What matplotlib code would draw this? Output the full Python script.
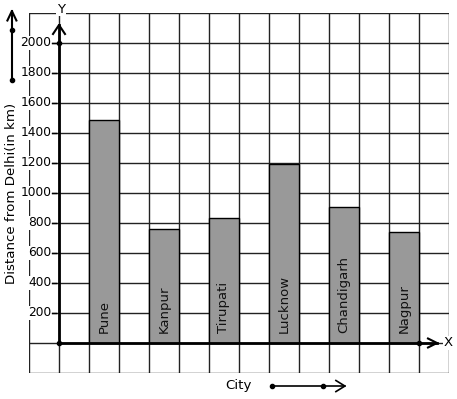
import numpy as np
import matplotlib
matplotlib.use("Agg")
import matplotlib.pyplot as plt

cities = ["Pune", "Kanpur", "Tirupati", "Lucknow", "Chandigarh", "Nagpur"]
distances = [1487, 760, 833, 1195, 908, 742]
bar_left = [1, 3, 5, 7, 9, 11]
y_ticks = [200, 400, 600, 800, 1000, 1200, 1400, 1600, 1800, 2000]

fig = plt.figure(figsize=(4.57, 3.99), dpi=100)
# axes spans the whole grid: x from -1 to 13 units, y from -200 to 2200
ax = fig.add_axes([29 / 457, 26 / 399, 420 / 457, 360 / 399])
ax.set_xlim(-1, 13)
ax.set_ylim(-200, 2200)

# grid
for gx in range(-1, 14):
    ax.axvline(gx, color="#222222", lw=1, zorder=1)
for gy in range(-200, 2201, 200):
    ax.axhline(gy, color="#222222", lw=1, zorder=1)
ax.set_xticks([])
ax.set_yticks([])
for s in ax.spines.values():
    s.set_visible(False)

# bars
ax.bar(bar_left, distances, width=1, align="edge", color="#999999",
       edgecolor="black", lw=1, zorder=2)
for x0, name in zip(bar_left, cities):
    ax.text(x0 + 0.5, 65, name, rotation=90, ha="center", va="bottom",
            fontsize=9.5, color="#111111", zorder=3)

# y tick labels with white boxes
for t in y_ticks:
    ax.text(-0.25, t, str(t), ha="right", va="center", fontsize=8.8,
            bbox=dict(facecolor="white", edgecolor="none", pad=0.6), zorder=4,
            clip_on=False)
    ax.plot([-0.25, -0.1], [t, t], color="black", lw=1, zorder=4, clip_on=False)

# axes arrows
ax.plot([0, 0], [0, 2120], color="black", lw=2, zorder=5, clip_on=False)
ax.plot([-0.2, 0, 0.2], [2060, 2120, 2060], color="black", lw=1.5, zorder=5, clip_on=False)
ax.plot([0, 12.6], [0, 0], color="black", lw=2, zorder=5, clip_on=False)
ax.plot([12.3, 12.6, 12.3], [30, 0, -30], color="black", lw=1.5, zorder=5, clip_on=False)
ax.plot([0, 0, 12], [0, 2000, 0], "o", color="black", ms=3, zorder=6, clip_on=False)
ax.text(0.07, 2225, "Y", ha="center", va="center", fontsize=9.5,
        bbox=dict(facecolor="white", edgecolor="none", pad=0.5), zorder=6, clip_on=False)
ax.text(12.97, 0, "X", ha="center", va="center", fontsize=9.5,
        bbox=dict(facecolor="white", edgecolor="none", pad=0.5), zorder=6, clip_on=False)

# y label and its arrow
ax.text(-1.57, 1000, "Distance from Delhi(in km)", rotation=90, ha="center",
        va="center", fontsize=9.6, clip_on=False)
ax.plot([-1.57, -1.57], [1753, 2213], color="black", lw=1.5, clip_on=False)
ax.plot([-1.72, -1.57, -1.42], [2150, 2213, 2150], color="black", lw=1.5, clip_on=False)
ax.plot([-1.57, -1.57], [1753, 2087], "o", color="black", ms=3, clip_on=False)

# x label and its arrow
ax.text(5.97, -280, "City", ha="center", va="center", fontsize=9.6, clip_on=False)
ax.plot([7.1, 9.53], [-287, -287], color="black", lw=1.2, clip_on=False)
ax.plot([9.23, 9.53, 9.23], [-250, -287, -324], color="black", lw=1.2, clip_on=False)
ax.plot([7.1, 8.8], [-287, -287], "o", color="black", ms=3, clip_on=False)

fig.savefig("out.png", dpi=100)
